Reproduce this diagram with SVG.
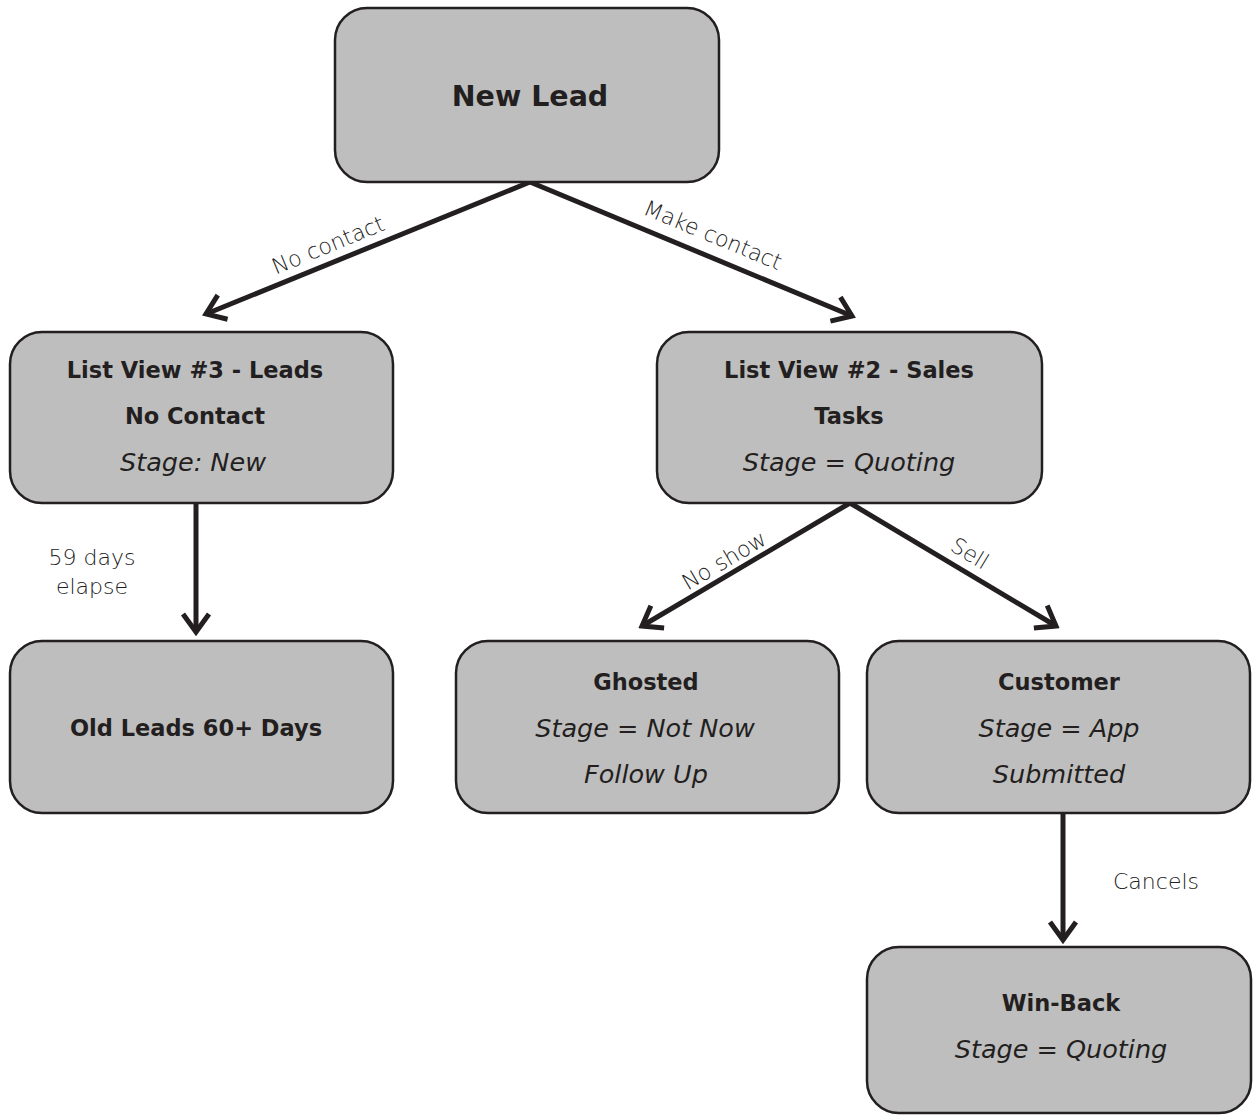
<svg xmlns="http://www.w3.org/2000/svg" width="1257" height="1116" viewBox="0 0 1257 1116">
<style>
.box{fill:#bebebe;stroke:#231f20;stroke-width:2.5}
.t{font-family:"DejaVu Sans","Liberation Sans",sans-serif;fill:#231f20;text-anchor:middle}
.b{font-weight:700;font-size:22.5px}
.i{font-style:italic;font-size:25.5px}
.lbl{font-family:"DejaVu Sans","Liberation Sans",sans-serif;font-weight:200;font-size:22px;fill:#222;text-anchor:middle}
.c{fill:none;stroke:#231f20;stroke-width:5}
</style>
<defs>
<marker id="arr" markerUnits="userSpaceOnUse" viewBox="-24 -16 28 32" markerWidth="28" markerHeight="32" refX="0" refY="0" orient="auto">
<path d="M-18,-13 L0,0 L-18,13" fill="none" stroke="#231f20" stroke-width="5"/>
</marker>
</defs>
<g id="connectors">
<path class="c" d="M530,182 L206,314" marker-end="url(#arr)"/>
<path class="c" d="M530,182 L852,316" marker-end="url(#arr)"/>
<path class="c" d="M196,503 L196,632" marker-end="url(#arr)"/>
<path class="c" d="M850,503 L642,626" marker-end="url(#arr)"/>
<path class="c" d="M850,503 L1056,626" marker-end="url(#arr)"/>
<path class="c" d="M1063,813 L1063,940" marker-end="url(#arr)"/>
<text class="lbl" transform="translate(331,252) rotate(-22.3)">No contact</text>
<text class="lbl" transform="translate(710,242) rotate(22.6)">Make contact</text>
<text class="lbl" x="92" y="565">59 days</text>
<text class="lbl" x="92" y="594">elapse</text>
<text class="lbl" transform="translate(728,567) rotate(-30.6)">No show</text>
<text class="lbl" transform="translate(966,560) rotate(30.8)">Sell</text>
<text class="lbl" x="1156" y="889">Cancels</text>
</g>
<g id="new-lead">
<rect class="box" x="335" y="8" width="384" height="174" rx="32"/>
<text class="t b" x="530" y="106" style="font-size:28.5px">New Lead</text>
</g>
<g id="list-view-3">
<rect class="box" x="10" y="332" width="383" height="171" rx="32"/>
<text class="t b" x="195" y="378">List View #3 - Leads</text>
<text class="t b" x="195" y="424">No Contact</text>
<text class="t i" x="193" y="471">Stage: New</text>
</g>
<g id="list-view-2">
<rect class="box" x="657" y="332" width="385" height="171" rx="32"/>
<text class="t b" x="849" y="378">List View #2 - Sales</text>
<text class="t b" x="849" y="424">Tasks</text>
<text class="t i" x="849" y="471">Stage = Quoting</text>
</g>
<g id="old-leads">
<rect class="box" x="10" y="641" width="383" height="172" rx="32"/>
<text class="t b" x="196" y="736">Old Leads 60+ Days</text>
</g>
<g id="ghosted">
<rect class="box" x="456" y="641" width="383" height="172" rx="32"/>
<text class="t b" x="646" y="690">Ghosted</text>
<text class="t i" x="645" y="737">Stage = Not Now</text>
<text class="t i" x="646" y="783">Follow Up</text>
</g>
<g id="customer">
<rect class="box" x="867" y="641" width="383" height="172" rx="32"/>
<text class="t b" x="1059" y="690">Customer</text>
<text class="t i" x="1059" y="737">Stage = App</text>
<text class="t i" x="1059" y="783">Submitted</text>
</g>
<g id="win-back">
<rect class="box" x="867" y="947" width="384" height="166" rx="32"/>
<text class="t b" x="1061" y="1011">Win-Back</text>
<text class="t i" x="1061" y="1058">Stage = Quoting</text>
</g>
</svg>
